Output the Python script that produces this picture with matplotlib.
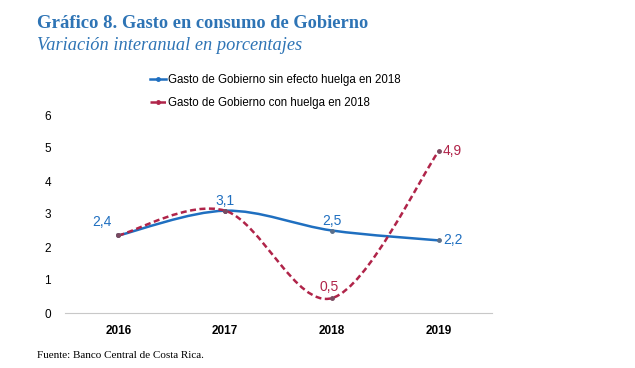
import matplotlib.pyplot as plt
import numpy as np
from matplotlib.path import Path
from matplotlib.patches import PathPatch
from matplotlib.lines import Line2D

plt.rcParams['font.family'] = ['Liberation Sans', 'DejaVu Sans']

years = ['2016', '2017', '2018', '2019']
sin_huelga = [2.35, 3.1, 2.5, 2.2]
con_huelga = [2.35, 3.1, 0.45, 4.9]
labels_sin = ['2,4', '3,1', '2,5', '2,2']
labels_con = ['', '', '0,5', '4,9']

blue = '#1F6FC0'
red = '#B02449'
title_blue = '#2E74B5'


def smooth_path(x, y):
    # Excel style smoothing: cubic bezier with catmull-rom control points
    pts = np.column_stack([x, y]).astype(float)
    n = len(pts)
    verts = [pts[0]]
    codes = [Path.MOVETO]
    for i in range(n - 1):
        p0 = pts[i - 1] if i > 0 else pts[i]
        p1 = pts[i]
        p2 = pts[i + 1]
        p3 = pts[i + 2] if i + 2 < n else pts[i + 1]
        c1 = p1 + (p2 - p0) / 6
        c2 = p2 - (p3 - p1) / 6
        verts += [c1, c2, p2]
        codes += [Path.CURVE4] * 3
    return Path(verts, codes)


fig = plt.figure(figsize=(6.35, 3.68), dpi=100)
ax = fig.add_axes([65 / 635, 1 - 313 / 368, 427 / 635, 198 / 368])

x = np.arange(len(years))
dash = (0, (2.4, 1.4))
ax.add_patch(PathPatch(smooth_path(x, sin_huelga), facecolor='none', edgecolor=blue, lw=1.8, zorder=3))
ax.add_patch(PathPatch(smooth_path(x, con_huelga), facecolor='none', edgecolor=red, lw=1.8,
                       linestyle=dash, zorder=4))
ax.plot(x, sin_huelga, 'o', ms=2.5, color='#5A6F8A', zorder=5)
ax.plot(x, con_huelga, 'o', ms=2.5, color='#7A4A60', zorder=5)

ax.set_xlim(-0.5, 3.5)
ax.set_ylim(0, 6)
ax.set_xticks(x)
ax.set_xticklabels(years, fontweight='bold')
ax.set_yticks(range(7))
ax.tick_params(length=0, labelsize=8.5, colors='black')
ax.tick_params(axis='x', pad=9)
ax.tick_params(axis='y', pad=10)
for s in ['top', 'right', 'left']:
    ax.spines[s].set_visible(False)
ax.spines['bottom'].set_color('#C8C8C8')

# data labels
lab_font = dict(fontsize=10)
ax.annotate(labels_sin[0], xy=(0, sin_huelga[0]), xytext=(-12, 10), textcoords='offset points',
            color=blue, ha='center', va='center',
            arrowprops=dict(arrowstyle='-', color='#888888', lw=0.7, shrinkA=3, shrinkB=1), **lab_font)
ax.annotate(labels_sin[1], xy=(1, sin_huelga[1]), xytext=(0, 7), textcoords='offset points',
            color=blue, ha='center', va='center', **lab_font)
ax.annotate(labels_sin[2], xy=(2, sin_huelga[2]), xytext=(0, 7), textcoords='offset points',
            color=blue, ha='center', va='center', **lab_font)
ax.annotate(labels_sin[3], xy=(3, sin_huelga[3]), xytext=(3, 0), textcoords='offset points',
            color=blue, ha='left', va='center', **lab_font)
ax.annotate(labels_con[2], xy=(2, con_huelga[2]), xytext=(-2, 8), textcoords='offset points',
            color=red, ha='center', va='center', **lab_font)
ax.annotate(labels_con[3], xy=(3, con_huelga[3]), xytext=(3, 0), textcoords='offset points',
            color=red, ha='left', va='center', **lab_font)

handles = [Line2D([], [], color=blue, lw=1.8, marker='o', ms=2.5),
           Line2D([], [], color=red, lw=1.8, ls=dash, marker='o', ms=2.5)]
fig.legend(handles, ['Gasto de Gobierno sin efecto huelga en 2018', 'Gasto de Gobierno con huelga en 2018'],
           loc='upper left', bbox_to_anchor=(150 / 635, 1 - 74 / 368), frameon=False,
           handlelength=1.4, handletextpad=0.15, labelspacing=0.95,
           borderaxespad=0, borderpad=0, prop={'size': 8.3})

fig.text(37 / 635, 1 - 24 / 368, 'Gráfico 8.', family='Liberation Serif', fontweight='bold',
         fontsize=13.5, color=title_blue, va='center')
fig.text(122 / 635, 1 - 24 / 368, 'Gasto en consumo de Gobierno', family='Liberation Serif',
         fontweight='bold', fontsize=13.2, color=title_blue, va='center')
fig.text(37 / 635, 1 - 46 / 368, 'Variación interanual en porcentajes', family='Liberation Serif',
         style='italic', fontsize=13.2, color=title_blue, va='center')
fig.text(37 / 635, 1 - 356 / 368, 'Fuente: Banco Central de Costa Rica.', family='Liberation Serif',
         fontsize=8, color='black', va='center')

fig.savefig('out.png', dpi=100)
